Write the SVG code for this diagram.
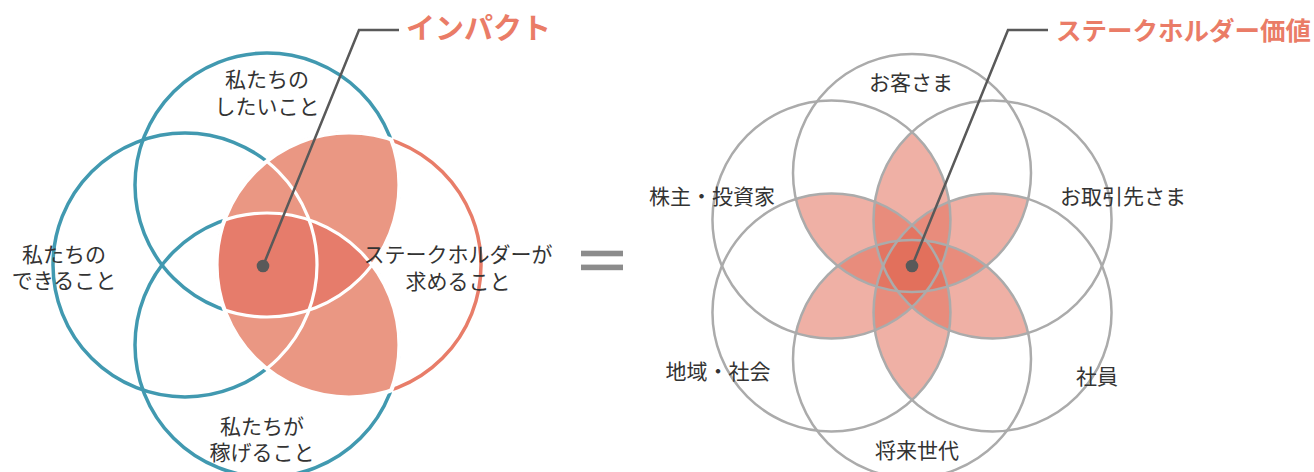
<svg xmlns="http://www.w3.org/2000/svg" width="1314" height="472" viewBox="0 0 1314 472">
<defs>
<style>
.lbl{font-family:"Noto Sans CJK JP","Noto Sans",sans-serif;font-size:21px;fill:#333;text-anchor:middle}
.ttl{font-family:"Noto Sans CJK JP","Noto Sans",sans-serif;font-weight:700;fill:#EA7C67}
.teal{fill:none;stroke:#4199B0;stroke-width:3.5}
.sal{fill:none;stroke:#E87D69;stroke-width:3.5}
.wht{fill:none;stroke:#fff;stroke-width:3.2}
.gry{fill:none;stroke:#ABABAB;stroke-width:2.5}
.lead{fill:none;stroke:#595959;stroke-width:2.5}
.lt{fill:#EA9783}
.dk{fill:#E67C6B}
.pet{fill:#E2705B;fill-opacity:0.55}
.eq{fill:#8C8C8C}
</style>
<clipPath id="cR"><circle cx="349" cy="265" r="132"/></clipPath>
<clipPath id="cT"><circle cx="267" cy="185" r="132"/></clipPath>
<clipPath id="cRx"><circle cx="349" cy="265" r="134.5"/></clipPath>
<clipPath id="cTBx"><circle cx="267" cy="185" r="134.5"/><circle cx="267" cy="345" r="134.5"/></clipPath>
<mask id="mOut" maskUnits="userSpaceOnUse" x="0" y="0" width="1314" height="472">
<rect x="0" y="0" width="1314" height="472" fill="#fff"/>
<g clip-path="url(#cRx)"><g clip-path="url(#cTBx)"><rect x="0" y="0" width="1314" height="472" fill="#000"/></g></g>
</mask>
<path id="petal" d="M912 131.9A119 119 0 0 1 912 307.1A119 119 0 0 1 912 131.9Z"/>
</defs>

<!-- Left: impact fill -->
<g id="impact-fill">
<g clip-path="url(#cR)">
<circle class="lt" cx="267" cy="185" r="132"/>
<circle class="lt" cx="267" cy="345" r="132"/>
<g clip-path="url(#cT)"><circle class="dk" cx="267" cy="345" r="132"/></g>
</g>
<g clip-path="url(#cRx)"><g clip-path="url(#cTBx)">
<circle class="wht" cx="267" cy="185" r="132"/>
<circle class="wht" cx="185" cy="265" r="132"/>
<circle class="wht" cx="267" cy="345" r="132"/>
<circle class="wht" cx="349" cy="265" r="132"/>
</g></g>
</g>

<g id="node-want">
<circle class="teal" cx="267" cy="185" r="132" mask="url(#mOut)"/>
<text class="lbl" x="267" y="87">私たちの<tspan x="267" dy="27">したいこと</tspan></text>
</g>
<g id="node-can">
<circle class="teal" cx="185" cy="265" r="132" mask="url(#mOut)"/>
<text class="lbl" x="64" y="262">私たちの<tspan x="64" dy="26">できること</tspan></text>
</g>
<g id="node-earn">
<circle class="teal" cx="267" cy="345" r="132" mask="url(#mOut)"/>
<text class="lbl" x="262" y="434">私たちが<tspan x="262" dy="26">稼げること</tspan></text>
</g>
<g id="node-stakeholder">
<circle class="sal" cx="349" cy="265" r="132" mask="url(#mOut)"/>
<text class="lbl" x="458" y="262">ステークホルダーが<tspan x="458" dy="27">求めること</tspan></text>
</g>

<g id="equals">
<rect class="eq" x="581" y="250.7" width="42" height="5.6"/>
<rect class="eq" x="581" y="264.6" width="42" height="5.6"/>
</g>

<!-- Right: stakeholder value petals -->
<g id="petals">
<use href="#petal" class="pet"/>
<use href="#petal" class="pet" transform="rotate(60 912 266)"/>
<use href="#petal" class="pet" transform="rotate(120 912 266)"/>
<use href="#petal" class="pet" transform="rotate(180 912 266)"/>
<use href="#petal" class="pet" transform="rotate(240 912 266)"/>
<use href="#petal" class="pet" transform="rotate(300 912 266)"/>
</g>

<g id="node-customers">
<circle class="gry" cx="912" cy="173" r="119"/>
<text class="lbl" x="911" y="90">お客さま</text>
</g>
<g id="node-partners">
<circle class="gry" cx="992.54" cy="219.5" r="119"/>
<text class="lbl" x="1123" y="204">お取引先さま</text>
</g>
<g id="node-employees">
<circle class="gry" cx="992.54" cy="312.5" r="119"/>
<text class="lbl" x="1097" y="384">社員</text>
</g>
<g id="node-future">
<circle class="gry" cx="912" cy="359" r="119"/>
<text class="lbl" x="917" y="458">将来世代</text>
</g>
<g id="node-community">
<circle class="gry" cx="831.46" cy="312.5" r="119"/>
<text class="lbl" x="718" y="379">地域・社会</text>
</g>
<g id="node-shareholders">
<circle class="gry" cx="831.46" cy="219.5" r="119"/>
<text class="lbl" x="712" y="204">株主・投資家</text>
</g>

<g id="connectors">
<polyline class="lead" points="263,266 359,30 399,30"/>
<circle cx="263" cy="266" r="6.3" fill="#595959"/>
<polyline class="lead" points="912,266 1008,30 1048,30"/>
<circle cx="912" cy="266" r="6.3" fill="#595959"/>
</g>

<g id="title-impact">
<text class="ttl" x="406" y="39" font-size="29">インパクト</text>
</g>
<g id="title-value">
<text class="ttl" x="1056" y="40" font-size="25.5">ステークホルダー価値</text>
</g>
</svg>
